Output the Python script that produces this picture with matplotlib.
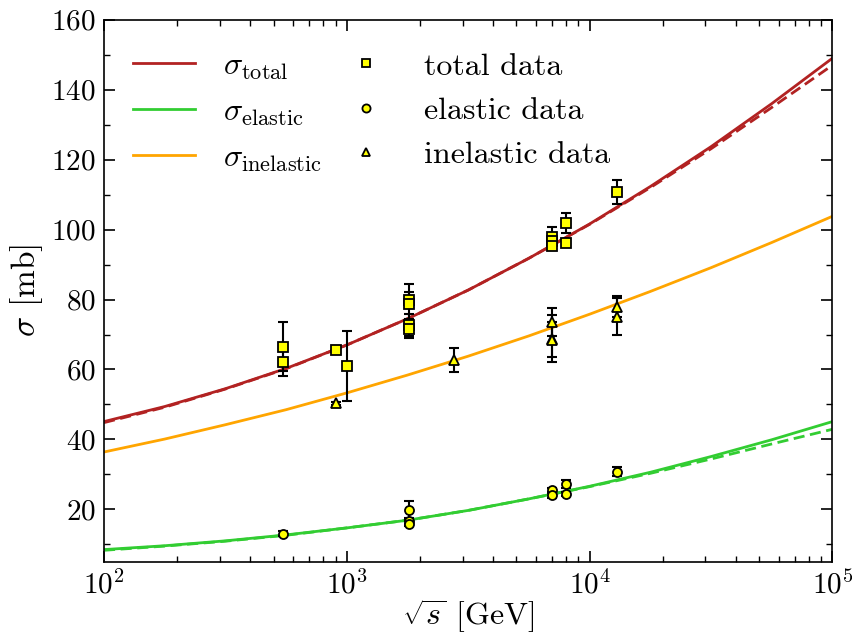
import numpy as np
import matplotlib
matplotlib.use("Agg")
import matplotlib.pyplot as plt

plt.rcParams['font.family'] = 'serif'
plt.rcParams['font.serif'] = ['cmr10']
plt.rcParams['mathtext.fontset'] = 'cm'
plt.rcParams['axes.formatter.use_mathtext'] = True

# model curves (sqrt(s) in GeV, sigma in mb)
sqrt_s_grid = [1.0e2, 1.778e2, 3.162e2, 5.623e2, 1.0e3, 1.778e3, 3.162e3,
               5.623e3, 1.0e4, 1.778e4, 3.162e4, 5.623e4, 1.0e5]
sig_total = [45.1, 49.4, 54.5, 60.3, 67.0, 74.5, 82.7, 91.8, 101.6, 112.3, 123.7, 136.0, 149.0]
sig_total_alt = [44.8, 49.2, 54.4, 60.2, 67.0, 74.5, 82.7, 91.8, 101.5, 112.0, 123.1, 134.9, 147.0]
sig_elastic = [8.5, 9.6, 11.0, 12.7, 14.7, 16.9, 19.7, 23.0, 26.6, 30.6, 35.1, 39.9, 45.1]
sig_elastic_alt = [8.3, 9.5, 10.9, 12.6, 14.7, 16.9, 19.7, 23.0, 26.5, 30.3, 34.4, 38.7, 42.9]
sig_inelastic = [36.4, 40.1, 44.2, 48.5, 53.3, 58.4, 63.8, 69.6, 75.8, 82.3, 89.1, 96.3, 103.8]

# measurements
tot_x = [546, 546, 900, 1000, 1800, 1800, 1800, 1800, 7000, 7000, 7000, 8000, 8000, 13000]
tot_y = [66.5, 62.2, 65.6, 61.0, 80.0, 78.6, 72.8, 71.7, 98.0, 96.8, 95.4, 101.8, 96.3, 110.7]
tot_e = [7.0, 4.0, 1.0, 10.0, 2.2, 5.7, 3.1, 2.7, 2.8, 2.2, 1.3, 2.9, 0.5, 3.4]

el_x = [546, 1800, 1800, 1800, 7000, 7000, 8000, 8000, 13000]
el_y = [13.1, 19.7, 16.6, 15.9, 25.4, 24.1, 27.2, 24.4, 30.8]
el_e = [0.6, 2.6, 0.8, 0.7, 0.8, 0.8, 1.1, 0.6, 1.3]

inel_x = [900, 2760, 7000, 7000, 7000, 13000, 13000]
inel_y = [50.3, 62.8, 73.5, 68.8, 68.5, 78.0, 75.1]
inel_e = [0.5, 3.4, 4.0, 6.8, 5.0, 2.9, 5.2]

c_tot = '#b22222'
c_el = '#32cd32'
c_inel = '#ffa500'

fig = plt.figure(figsize=(8.52, 6.37), dpi=100)
ax = fig.add_axes([0.122, 0.118, 0.855, 0.851])

ax.plot(sqrt_s_grid, sig_total, color=c_tot, lw=2, label=r'$\sigma_{\rm total}$')
ax.plot(sqrt_s_grid, sig_elastic, color=c_el, lw=2, label=r'$\sigma_{\rm elastic}$')
ax.plot(sqrt_s_grid, sig_inelastic, color=c_inel, lw=2, label=r'$\sigma_{\rm inelastic}$')
ax.plot(sqrt_s_grid, sig_total_alt, color=c_tot, lw=2, ls=(0, (4, 2)))
ax.plot(sqrt_s_grid, sig_elastic_alt, color=c_el, lw=2, ls=(0, (4, 2)))

for xs, ys, es in [(tot_x, tot_y, tot_e), (el_x, el_y, el_e), (inel_x, inel_y, inel_e)]:
    ax.errorbar(xs, ys, yerr=es, fmt='none', ecolor='black', elinewidth=1.5,
                capsize=3.5, capthick=1.5, zorder=3)

mk = dict(ls='none', mfc='yellow', mec='black', mew=1.3, ms=6.5, zorder=4)
ax.plot(tot_x, tot_y, marker='s', label='total data', **mk)
ax.plot(el_x, el_y, marker='o', label='elastic data', **mk)
ax.plot(inel_x, inel_y, marker='^', label='inelastic data', **mk)

ax.set_xscale('log')
ax.set_xlim(1e2, 1e5)
ax.set_ylim(5, 160)
ax.set_yticks(np.arange(20, 161, 20))
ax.set_yticks(np.arange(10, 161, 10), minor=True)
ax.tick_params(which='both', direction='in', top=True, right=True, labelsize=21)
ax.tick_params(which='major', length=8, width=1.2, pad=6)
ax.tick_params(which='minor', length=4, width=1.0)
for sp in ax.spines.values():
    sp.set_linewidth(1.2)

ax.set_xlabel(r'$\sqrt{s}$ [GeV]', fontsize=23, labelpad=-2)
ax.set_ylabel(r'$\sigma$ [mb]', fontsize=24, labelpad=4)

leg = ax.legend(ncol=2, frameon=False, fontsize=23, loc='upper left',
                bbox_to_anchor=(0.04, 0.94), borderaxespad=0, borderpad=0,
                handlelength=1.95, labelspacing=0.5, columnspacing=0.4,
                handletextpad=0.85, markerscale=0.9)

fig.savefig('out.png', dpi=100)
